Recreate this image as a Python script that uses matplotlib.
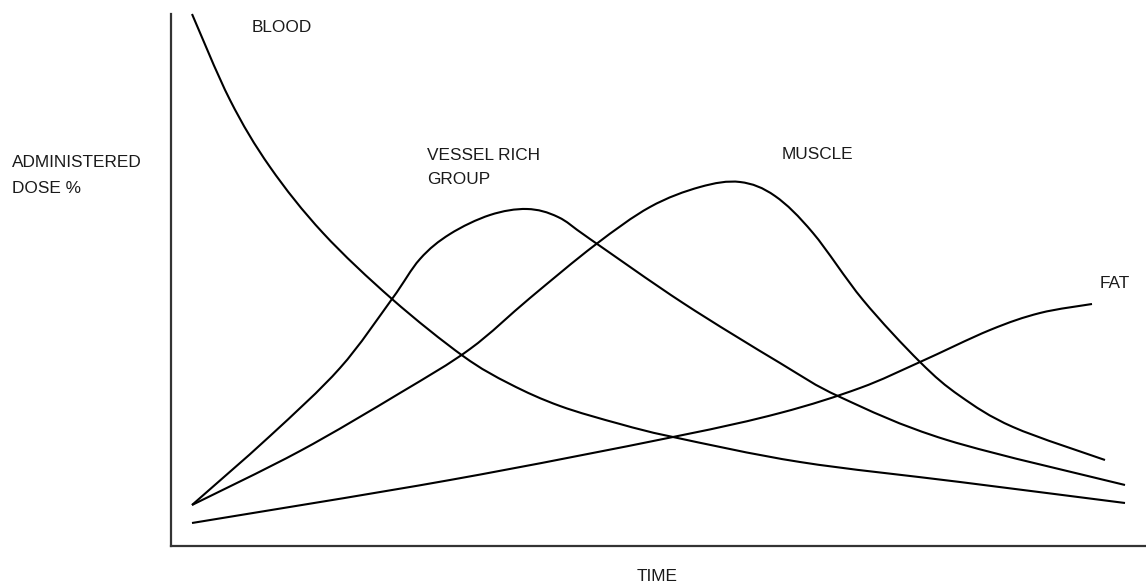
import matplotlib
matplotlib.use("Agg")
import matplotlib.pyplot as plt
from matplotlib.path import Path
from matplotlib.patches import PathPatch

# curves: time (x) and dose (y), arbitrary units
blood_t = [192, 230, 270, 323, 392, 463, 510, 560, 620, 673, 800, 960, 1125]
blood_d = [532, 446, 379, 313, 247, 190, 162, 140, 122, 109, 84, 64, 43]

vrg_t = [192, 270, 340, 392, 420, 450, 490, 527, 558, 590, 683, 780, 840, 947, 1125]
vrg_d = [41, 110, 178, 247, 287, 312, 331, 337, 329, 307, 243, 183, 149, 106, 61]

muscle_t = [192, 300, 400, 470, 530, 595, 650, 700, 740, 775, 813, 863, 920, 960, 1013, 1105]
muscle_d = [41, 95, 153, 197, 248, 301, 339, 359, 364, 350, 313, 246, 184, 150, 119, 86]

fat_t = [192, 450, 673, 780, 860, 920, 990, 1040, 1092]
fat_d = [23, 66, 109, 133, 158, 184, 216, 233, 242]


def smooth_path(xs, ys):
    # Catmull-Rom through the read points, drawn as cubic Bezier segments
    pts = list(zip(xs, ys))
    n = len(pts)
    verts = [pts[0]]
    codes = [Path.MOVETO]
    for i in range(n - 1):
        p0 = pts[max(i - 1, 0)]
        p1 = pts[i]
        p2 = pts[i + 1]
        p3 = pts[min(i + 2, n - 1)]
        c1 = (p1[0] + (p2[0] - p0[0]) / 6, p1[1] + (p2[1] - p0[1]) / 6)
        c2 = (p2[0] - (p3[0] - p1[0]) / 6, p2[1] - (p3[1] - p1[1]) / 6)
        verts += [c1, c2, p2]
        codes += [Path.CURVE4] * 3
    return Path(verts, codes)


W, H = 1146, 583
fig = plt.figure(figsize=(W / 100, H / 100), dpi=100)
ax = fig.add_axes([171 / W, (H - 546) / H, (W - 171) / W, (546 - 14) / H])
ax.set_xlim(171, 1146)
ax.set_ylim(0, 532)

for t, d in [(blood_t, blood_d), (vrg_t, vrg_d), (muscle_t, muscle_d), (fat_t, fat_d)]:
    ax.add_patch(PathPatch(smooth_path(t, d), facecolor="none", edgecolor="black",
                           lw=1.5, capstyle="butt", clip_on=False))

for s in ["top", "right"]:
    ax.spines[s].set_visible(False)
for s in ["left", "bottom"]:
    ax.spines[s].set_color("#333333")
    ax.spines[s].set_linewidth(1.6)
ax.set_xticks([])
ax.set_yticks([])

font = dict(family="Liberation Sans", fontsize=12.4, color="#1a1a1a", va="baseline")


def label(x, y, s, ha="left"):
    # x, y in figure pixels from top-left
    fig.text(x / W, 1 - y / H, s, ha=ha, **font)


label(252, 31.5, "BLOOD")
label(427, 160, "VESSEL RICH")
label(427, 184, "GROUP")
label(782, 159, "MUSCLE")
label(1100, 288, "FAT")
label(12, 167, "ADMINISTERED")
label(12, 193, "DOSE %")
label(657, 581, "TIME", ha="center")

fig.savefig("out.png", dpi=100)
